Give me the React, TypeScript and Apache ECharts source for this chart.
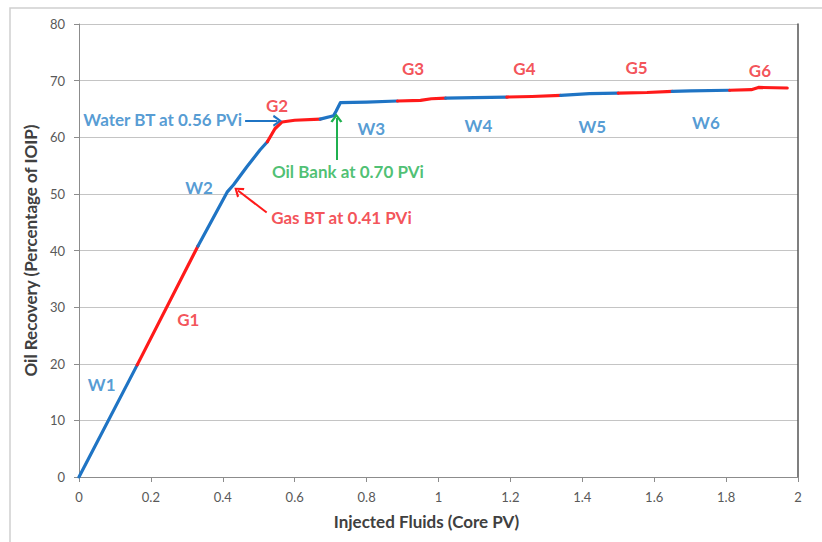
import React, { useEffect, useRef } from "react";
import * as echarts from "echarts";

// Recovery curve
const injectedPV = [0, 0.162, 0.331, 0.412, 0.43, 0.467, 0.504, 0.524, 0.545, 0.565, 0.6, 0.671, 0.708, 0.715, 0.727, 0.8, 0.886, 0.95, 0.98, 1.02, 1.1, 1.19, 1.26, 1.34, 1.42, 1.5, 1.58, 1.65, 1.7, 1.81, 1.87, 1.89, 1.97];
const recoveryPct = [0, 19.8, 40.8, 50.3, 51.6, 54.8, 57.8, 59.2, 61.5, 62.7, 63.0, 63.2, 63.8, 64.6, 66.1, 66.2, 66.4, 66.5, 66.8, 66.9, 67.0, 67.1, 67.2, 67.4, 67.7, 67.8, 67.9, 68.1, 68.2, 68.3, 68.4, 68.8, 68.7];

// Injection phases (W = water, G = gas) and where each ends (PV)
const phaseNames = ["W1", "G1", "W2", "G2", "W3", "G3", "W4", "G4", "W5", "G5", "W6", "G6"];
const phaseEnds = [0.162, 0.331, 0.524, 0.671, 0.886, 1.02, 1.19, 1.34, 1.5, 1.65, 1.81, 1.97];

// Phase label positions (data units)
const phaseLabelX = [0.063, 0.304, 0.334, 0.551, 0.813, 0.929, 1.111, 1.239, 1.428, 1.551, 1.744, 1.894];
const phaseLabelY = [16.3, 27.9, 51.2, 65.6, 61.5, 72.1, 62.0, 72.1, 61.9, 72.3, 62.6, 71.7];

// Annotations
const noteTexts = ["Water BT at 0.56 PVi", "Gas BT at 0.41 PVi", "Oil Bank at 0.70 PVi"];
const noteX = [0.233, 0.73, 0.748];
const noteY = [63.2, 45.8, 53.9];
const arrowFrom = [[0.462, 62.9], [0.522, 46.7], [0.716, 56.0]];
const arrowTo = [[0.552, 62.9], [0.442, 50.6], [0.716, 63.4]];

const xTicks = { min: 0, max: 2, interval: 0.2 };
const yTicks = { min: 0, max: 80, interval: 10 };

const BLUE = "#1f74c4";
const RED = "#ff1a1a";
const GREEN = "#1fb04f";
const BLUE_TXT = "#2a82c8";
const RED_TXT = "#f0262e";
const CHEVRON = "path://M0,9 L5,0 L10,9 L8.2,10 L5,3.8 L1.8,10 Z";

export default function App() {
  const ref = useRef<HTMLDivElement>(null);
  useEffect(() => {
    if (!ref.current) return;
    const chart = echarts.init(ref.current, null, { renderer: "svg" });
    const noteColors = [BLUE_TXT, RED_TXT, GREEN];
    const arrowColors = [BLUE, RED, GREEN];

    const segSeries = phaseNames.map((name, i) => {
      const start = i === 0 ? 0 : phaseEnds[i - 1];
      const end = phaseEnds[i];
      const data: number[][] = [];
      injectedPV.forEach((x, k) => {
        if (x >= start - 1e-9 && x <= end + 1e-9) data.push([x, recoveryPct[k]]);
      });
      return {
        type: "line",
        name,
        data,
        showSymbol: false,
        silent: true,
        lineStyle: { width: 3.2, color: name[0] === "W" ? BLUE : RED, cap: "round", join: "round" },
        z: 3,
      };
    });

    const labelData = phaseNames.map((n, i) => ({
      value: [phaseLabelX[i], phaseLabelY[i]],
      name: n,
      label: { color: n[0] === "W" ? BLUE_TXT : RED_TXT },
    }));
    const noteData = noteTexts.map((t, i) => ({
      value: [noteX[i], noteY[i]],
      name: t,
      label: { color: noteColors[i] },
    }));

    const textLabel = {
      show: true,
      position: "inside",
      formatter: "{b}",
      fontFamily: "Lato",
      fontWeight: "bold",
      fontSize: 17,
    };

    chart.setOption({
      animation: false,
      backgroundColor: "#ffffff",
      grid: { left: 79, right: 24, top: 24, bottom: 65, containLabel: false },
      xAxis: {
        type: "value",
        ...xTicks,
        name: "Injected Fluids (Core PV)",
        nameLocation: "middle",
        nameGap: 36,
        nameTextStyle: { fontFamily: "Lato", fontWeight: "bold", fontSize: 17, color: "#404040", padding: [0, 24, 0, 0] },
        axisLine: { show: true, lineStyle: { color: "#8c8c8c", width: 1 } },
        axisTick: { show: true, length: 5, lineStyle: { color: "#8c8c8c" } },
        axisLabel: { fontFamily: "Lato", fontSize: 13, color: "#595959", margin: 13 },
        splitLine: { show: false },
      },
      yAxis: [
        {
          type: "value",
          ...yTicks,
          name: "Oil Recovery (Percentage of IOIP)",
          nameLocation: "middle",
          nameGap: 38,
          nameTextStyle: { fontFamily: "Lato", fontWeight: "bold", fontSize: 17, color: "#404040" },
          axisLine: { show: true, lineStyle: { color: "#8c8c8c", width: 1 } },
          axisTick: { show: true, length: 5, lineStyle: { color: "#8c8c8c" } },
          axisLabel: { fontFamily: "Lato", fontSize: 13, color: "#595959", margin: 14 },
          splitLine: { show: true, lineStyle: { color: "#c4c4c4", width: 1 } },
        },
        {
          type: "value",
          ...yTicks,
          position: "right",
          axisLine: { show: true, lineStyle: { color: "#555555", width: 1.5 } },
          axisTick: { show: false },
          axisLabel: { show: false },
          splitLine: { show: false },
        },
      ],
      graphic: [
        {
          type: "rect",
          shape: { x: 10, y: 8, width: 840, height: 560 },
          style: { fill: "none", stroke: "#cfcfcf", lineWidth: 1.5 },
          silent: true,
        },
      ],
      series: [
        ...segSeries,
        {
          type: "scatter",
          name: "phaseLabels",
          data: labelData,
          symbolSize: 0,
          silent: true,
          label: textLabel,
          z: 5,
        },
        {
          type: "scatter",
          name: "notes",
          data: noteData,
          symbolSize: 0,
          silent: true,
          label: textLabel,
          markLine: {
            silent: true,
            symbol: ["none", CHEVRON],
            symbolSize: [12, 9],
            label: { show: false },
            data: arrowFrom.map((f, i) => [
              { coord: f, lineStyle: { color: arrowColors[i], width: 2, type: "solid" }, itemStyle: { color: arrowColors[i] } },
              { coord: arrowTo[i] },
            ]),
          },
          z: 5,
        },
      ],
    });
    return () => chart.dispose();
  }, []);
  return (
    <div
      ref={ref}
      style={{ position: "fixed", left: 0, top: 0, width: 822, height: 542, background: "#fff" }}
    />
  );
}
